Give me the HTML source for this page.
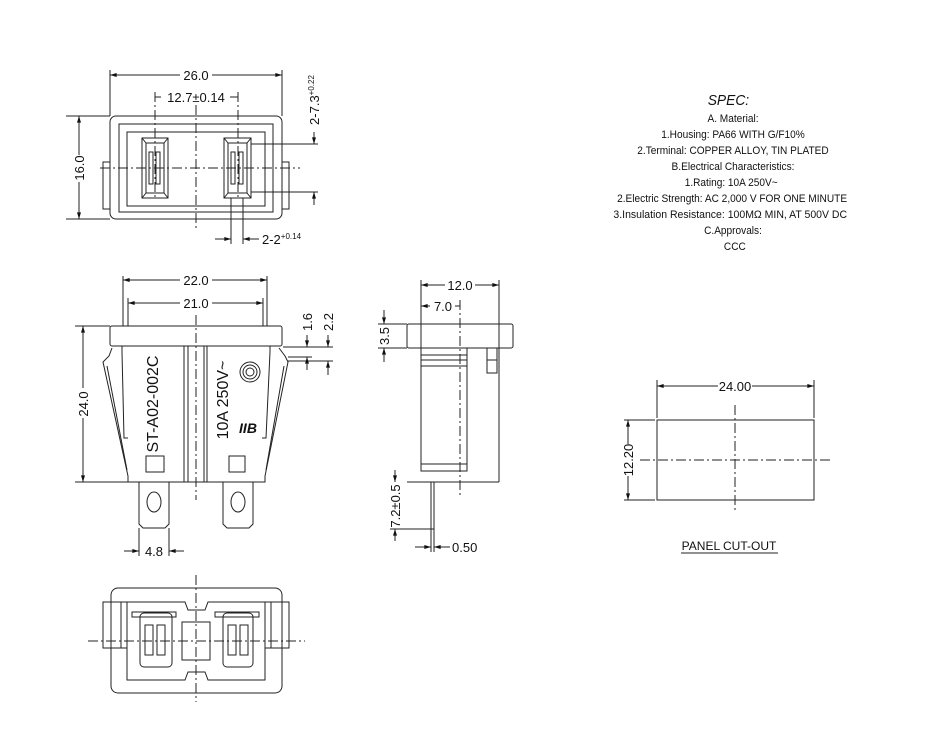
<!DOCTYPE html>
<html><head><meta charset="utf-8"><style>
html,body{margin:0;padding:0;background:#fff;}
svg{display:block;}
text{font-family:"Liberation Sans",sans-serif;fill:#111;}
</style></head><body>
<svg width="930" height="744" viewBox="0 0 930 744" xmlns="http://www.w3.org/2000/svg">
<defs>
<marker id="a" viewBox="0 0 10 6" refX="10" refY="3" markerWidth="8" markerHeight="4" orient="auto-start-reverse"><path d="M0,0L10,3L0,6z" fill="#111"/></marker>
</defs>
<g stroke="#222" stroke-width="1" fill="none">
<!-- TOP VIEW -->
<rect x="110" y="116" width="172" height="103" rx="6"/>
<rect x="119" y="124" width="154" height="88"/>
<rect x="127" y="132" width="138" height="74"/>
<rect x="103" y="162" width="7" height="47"/>
<rect x="282" y="162" width="7" height="47"/>
<rect x="142" y="138" width="26" height="60"/>
<rect x="146" y="143" width="18" height="50"/>
<line x1="142" y1="138" x2="146" y2="143"/><line x1="168" y1="138" x2="164" y2="143"/><line x1="142" y1="198" x2="146" y2="193"/><line x1="168" y1="198" x2="164" y2="193"/>
<rect x="149" y="152" width="4" height="32"/><rect x="156" y="152" width="4" height="32"/>
<rect x="224" y="138" width="27" height="60"/>
<rect x="228" y="143" width="19" height="50"/>
<line x1="224" y1="138" x2="228" y2="143"/><line x1="251" y1="138" x2="247" y2="143"/><line x1="224" y1="198" x2="228" y2="193"/><line x1="251" y1="198" x2="247" y2="193"/>
<rect x="231" y="152" width="4" height="32"/><rect x="239" y="152" width="4" height="32"/>
<line x1="100" y1="168" x2="300" y2="168" stroke-dasharray="10,3,2,3"/>
<line x1="196" y1="105" x2="196" y2="230" stroke-dasharray="10,3,2,3"/>
<line x1="155" y1="92" x2="155" y2="200" stroke-dasharray="10,3,2,3"/>
<line x1="238" y1="92" x2="238" y2="200" stroke-dasharray="10,3,2,3"/>
<line x1="110" y1="70" x2="110" y2="116"/><line x1="282" y1="70" x2="282" y2="116"/>
<line x1="110" y1="75" x2="180" y2="75" marker-start="url(#a)"/><line x1="212" y1="75" x2="282" y2="75" marker-end="url(#a)"/>
<line x1="155" y1="97" x2="161" y2="97"/><line x1="230" y1="97" x2="238" y2="97"/>
<line x1="66" y1="116" x2="110" y2="116"/><line x1="66" y1="219" x2="110" y2="219"/>
<line x1="79" y1="116" x2="79" y2="155" marker-start="url(#a)"/><line x1="79" y1="182" x2="79" y2="219" marker-end="url(#a)"/>
<line x1="251" y1="144" x2="318" y2="144"/><line x1="251" y1="192" x2="318" y2="192"/>
<line x1="314" y1="132" x2="314" y2="144" marker-end="url(#a)"/><line x1="314" y1="205" x2="314" y2="192" marker-end="url(#a)"/>
<line x1="231" y1="198" x2="231" y2="244"/><line x1="243" y1="198" x2="243" y2="244"/>
<line x1="215" y1="239" x2="231" y2="239" marker-end="url(#a)"/><line x1="259" y1="239" x2="243" y2="239" marker-end="url(#a)"/>

<!-- FRONT VIEW -->
<rect x="110" y="326" width="172" height="20" rx="2"/>
<path d="M112,348 L109,356 L103,362 L128,476 L128,482 L265,482 L265,476 L288,362 L285,356 L279,348"/>
<path d="M122,346 L122,352 L124,438 L128,438"/>
<path d="M270,346 L270,352 L266,438 L262,438"/>
<path d="M107,366 L127,470"/><path d="M284,366 L266,470"/>
<line x1="184" y1="346" x2="184" y2="482"/><line x1="188" y1="346" x2="188" y2="482"/>
<line x1="204" y1="346" x2="204" y2="482"/><line x1="207" y1="346" x2="207" y2="482"/>
<line x1="196" y1="315" x2="196" y2="500" stroke-dasharray="10,3,2,3"/>
<rect x="146" y="456" width="18" height="16"/><rect x="229" y="456" width="16" height="16"/>
<path d="M139,482 L139,524 L143,528 L165,528 L169,524 L169,482"/>
<path d="M223,482 L223,524 L227,528 L249,528 L253,524 L253,482"/>
<ellipse cx="154" cy="502" rx="7" ry="10"/><ellipse cx="238" cy="502" rx="7" ry="10"/>
<circle cx="250" cy="372" r="4"/><circle cx="250" cy="372" r="7"/><circle cx="250" cy="372" r="10"/>
<line x1="123" y1="276" x2="123" y2="326"/><line x1="267" y1="276" x2="267" y2="326"/>
<line x1="128" y1="298" x2="128" y2="326"/><line x1="263" y1="298" x2="263" y2="326"/>
<line x1="123" y1="280" x2="180" y2="280" marker-start="url(#a)"/><line x1="212" y1="280" x2="267" y2="280" marker-end="url(#a)"/>
<line x1="128" y1="303" x2="180" y2="303" marker-start="url(#a)"/><line x1="212" y1="303" x2="263" y2="303" marker-end="url(#a)"/>
<line x1="75" y1="326" x2="110" y2="326"/><line x1="75" y1="482" x2="128" y2="482"/>
<line x1="83" y1="326" x2="83" y2="388" marker-start="url(#a)"/><line x1="83" y1="418" x2="83" y2="482" marker-end="url(#a)"/>
<line x1="283" y1="347" x2="333" y2="347"/><line x1="288" y1="357" x2="312" y2="357"/><line x1="288" y1="361" x2="333" y2="361"/>
<line x1="307" y1="335" x2="307" y2="347" marker-end="url(#a)"/><line x1="307" y1="370" x2="307" y2="357" marker-end="url(#a)"/>
<line x1="328" y1="335" x2="328" y2="347" marker-end="url(#a)"/><line x1="328" y1="375" x2="328" y2="361" marker-end="url(#a)"/>
<line x1="139" y1="528" x2="139" y2="556"/><line x1="169" y1="528" x2="169" y2="556"/>
<line x1="124" y1="551" x2="139" y2="551" marker-end="url(#a)"/><line x1="184" y1="551" x2="169" y2="551" marker-end="url(#a)"/>

<!-- SIDE VIEW -->
<rect x="407" y="324" width="106" height="24" rx="2"/>
<rect x="421" y="348" width="46" height="123"/>
<line x1="421" y1="355" x2="467" y2="355"/><line x1="421" y1="360" x2="467" y2="360"/><line x1="421" y1="366" x2="467" y2="366"/><line x1="421" y1="464" x2="467" y2="464"/>
<rect x="487" y="348" width="10" height="25"/><line x1="487" y1="360" x2="497" y2="360"/>
<line x1="499" y1="280" x2="499" y2="482"/><line x1="407" y1="482" x2="499" y2="482"/>
<line x1="421" y1="280" x2="421" y2="348"/>
<rect x="431" y="482" width="3" height="47"/>
<line x1="460" y1="300" x2="460" y2="495" stroke-dasharray="10,3,2,3"/>
<line x1="421" y1="285" x2="445" y2="285" marker-start="url(#a)"/><line x1="475" y1="285" x2="499" y2="285" marker-end="url(#a)"/>
<line x1="421" y1="306" x2="430" y2="306" marker-start="url(#a)"/><line x1="455" y1="306" x2="460" y2="306"/>
<line x1="378" y1="324" x2="407" y2="324"/><line x1="378" y1="348" x2="407" y2="348"/>
<line x1="384" y1="310" x2="384" y2="324" marker-end="url(#a)"/><line x1="384" y1="362" x2="384" y2="348" marker-end="url(#a)"/>
<line x1="390" y1="529" x2="431" y2="529"/>
<line x1="395" y1="470" x2="395" y2="482" marker-end="url(#a)"/><line x1="395" y1="541" x2="395" y2="529" marker-end="url(#a)"/>
<line x1="431" y1="529" x2="431" y2="552"/><line x1="434" y1="529" x2="434" y2="552"/>
<line x1="415" y1="547" x2="431" y2="547" marker-end="url(#a)"/><line x1="450" y1="547" x2="434" y2="547" marker-end="url(#a)"/>

<!-- BOTTOM VIEW -->
<rect x="111" y="588" width="171" height="105" rx="7"/>
<rect x="103" y="602" width="24" height="46"/><line x1="121" y1="602" x2="121" y2="648"/>
<rect x="265" y="602" width="24" height="46"/><line x1="271" y1="602" x2="271" y2="648"/>
<path d="M127,602 L185,602 L188,610 L205,610 L208,602 L265,602 L265,680 L208,680 L205,672 L188,672 L185,680 L127,680 Z"/>
<rect x="182" y="622" width="28" height="38"/>
<rect x="140" y="613" width="32" height="54" rx="4"/>
<rect x="223" y="613" width="30" height="54" rx="4"/>
<rect x="132" y="612" width="44" height="5"/><rect x="215" y="612" width="44" height="5"/>
<rect x="145" y="625" width="8" height="30"/><rect x="157" y="625" width="8" height="30"/>
<rect x="228" y="625" width="8" height="30"/><rect x="240" y="625" width="8" height="30"/>
<line x1="88" y1="641" x2="305" y2="641" stroke-dasharray="10,3,2,3"/>
<line x1="196" y1="575" x2="196" y2="702" stroke-dasharray="10,3,2,3"/>

<!-- PANEL CUT-OUT -->
<rect x="657" y="420" width="157" height="80"/>
<line x1="640" y1="460" x2="832" y2="460" stroke-dasharray="10,3,2,3"/>
<line x1="735" y1="405" x2="735" y2="512" stroke-dasharray="10,3,2,3"/>
<line x1="657" y1="380" x2="657" y2="418"/><line x1="814" y1="380" x2="814" y2="418"/>
<line x1="657" y1="386" x2="718" y2="386" marker-start="url(#a)"/><line x1="752" y1="386" x2="814" y2="386" marker-end="url(#a)"/>
<line x1="624" y1="420" x2="655" y2="420"/><line x1="624" y1="500" x2="655" y2="500"/>
<line x1="628" y1="420" x2="628" y2="444" marker-start="url(#a)"/><line x1="628" y1="476" x2="628" y2="500" marker-end="url(#a)"/>
<line x1="681" y1="553" x2="778" y2="553"/>
</g>

<g font-size="13">
<text x="196" y="80" text-anchor="middle">26.0</text>
<text x="196" y="102" text-anchor="middle">12.7±0.14</text>
<text transform="translate(84,168) rotate(-90)" text-anchor="middle">16.0</text>
<text transform="translate(319,100) rotate(-90)" text-anchor="middle">2-7.3<tspan font-size="8" dy="-5">+0.22</tspan></text>
<text x="262" y="244">2-2<tspan font-size="8" dy="-5">+0.14</tspan></text>
<text x="196" y="285" text-anchor="middle">22.0</text>
<text x="196" y="308" text-anchor="middle">21.0</text>
<text transform="translate(88,404) rotate(-90)" text-anchor="middle">24.0</text>
<text transform="translate(312,322) rotate(-90)" text-anchor="middle">1.6</text>
<text transform="translate(333,322) rotate(-90)" text-anchor="middle">2.2</text>
<text x="154" y="556" text-anchor="middle">4.8</text>
<text transform="translate(158,404) rotate(-90)" text-anchor="middle" font-size="16">ST-A02-002C</text>
<text transform="translate(228,400) rotate(-90)" text-anchor="middle" font-size="16">10A 250V~</text>
<text x="248" y="433" text-anchor="middle" font-size="14" font-style="italic" font-weight="bold">IIB</text>
<text x="460" y="290" text-anchor="middle">12.0</text>
<text x="443" y="311" text-anchor="middle">7.0</text>
<text transform="translate(389,336) rotate(-90)" text-anchor="middle">3.5</text>
<text transform="translate(400,506) rotate(-90)" text-anchor="middle">7.2±0.5</text>
<text x="452" y="552">0.50</text>
<text x="735" y="391" text-anchor="middle">24.00</text>
<text transform="translate(633,460) rotate(-90)" text-anchor="middle">12.20</text>
<text x="729" y="550" text-anchor="middle" font-size="12">PANEL CUT-OUT</text>
</g>
<g font-size="11" text-anchor="middle" transform="translate(733,0) scale(0.92,1)">
<text x="-5" y="105" font-size="15" font-style="italic">SPEC:</text>
<text x="0" y="122">A. Material:</text>
<text x="0" y="138">1.Housing: PA66 WITH G/F10%</text>
<text x="0" y="154">2.Terminal: COPPER ALLOY, TIN PLATED</text>
<text x="0" y="170">B.Electrical Characteristics:</text>
<text x="-2" y="186">1.Rating:  10A 250V~</text>
<text x="-1" y="202" textLength="250" lengthAdjust="spacingAndGlyphs">2.Electric Strength: AC 2,000 V FOR ONE MINUTE</text>
<text x="-3" y="218" textLength="254" lengthAdjust="spacingAndGlyphs">3.Insulation Resistance: 100MΩ MIN, AT 500V DC</text>
<text x="0" y="234">C.Approvals:</text>
<text x="2" y="250">CCC</text>
</g>
</svg>
</body></html>
